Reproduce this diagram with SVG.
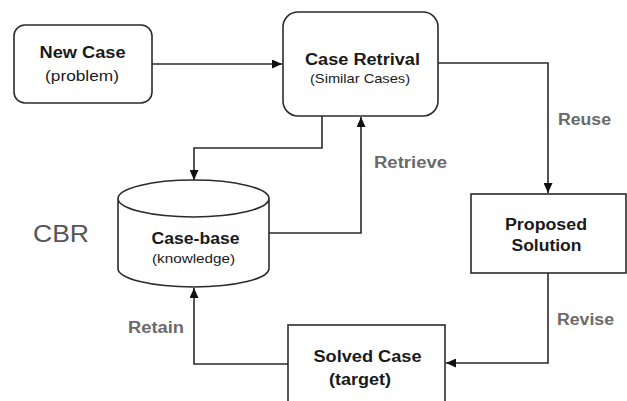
<svg xmlns="http://www.w3.org/2000/svg" width="627" height="401" viewBox="0 0 627 401">
<style>
.box{fill:#fff;stroke:#2b2b2b;stroke-width:1.6}
.t{font-family:"Liberation Sans",Arial,sans-serif;fill:#1a1a1a;text-anchor:middle}
.b{font-weight:bold;font-size:16px}
.r{font-size:15px}
.s{font-size:13px}
.lbl{font-family:"Liberation Sans",Arial,sans-serif;font-weight:bold;font-size:16px;fill:#6a6a6a}
.cbr{font-family:"Liberation Sans",Arial,sans-serif;font-size:23px;fill:#555}
.c{fill:none;stroke:#2b2b2b;stroke-width:1.6}
</style>
<defs>
<marker id="ah" markerUnits="userSpaceOnUse" markerWidth="10" markerHeight="9" refX="10" refY="4.5" orient="auto">
<path d="M0,0 L10,4.5 L0,9 z" fill="#111"/>
</marker>
</defs>
<rect width="627" height="401" fill="#fff"/>
<g id="connectors">
<path class="c" d="M152,64 H282" marker-end="url(#ah)"/>
<path class="c" d="M322,116 V148 H194 V180" marker-end="url(#ah)"/>
<path class="c" d="M269,233 H361 V117" marker-end="url(#ah)"/>
<path class="c" d="M438,63 H548 V193" marker-end="url(#ah)"/>
<path class="c" d="M548,273 V363 H446" marker-end="url(#ah)"/>
<path class="c" d="M288,364 H194 V288" marker-end="url(#ah)"/>
</g>
<g id="new-case">
<rect class="box" x="14" y="25" width="138" height="78" rx="11"/>
<text class="t b" x="82.5" y="58" textLength="86" lengthAdjust="spacingAndGlyphs">New Case</text>
<text class="t r" x="82" y="81" textLength="74" lengthAdjust="spacingAndGlyphs">(problem)</text>
</g>
<g id="case-retrival">
<rect class="box" x="283" y="12" width="155" height="104" rx="15"/>
<text class="t b" x="362.5" y="65" textLength="115" lengthAdjust="spacingAndGlyphs">Case Retrival</text>
<text class="t s" x="360" y="83" textLength="100" lengthAdjust="spacingAndGlyphs">(Similar Cases)</text>
</g>
<g id="case-base">
<path class="box" d="M118,198.5 L118,268.5 A75.5,18.5 0 0 0 269,268.5 L269,198.5 A75.5,18.5 0 0 0 118,198.5 A75.5,18.5 0 0 0 269,198.5"/>
<text class="t b" x="195.5" y="244" textLength="88" lengthAdjust="spacingAndGlyphs">Case-base</text>
<text class="t s" x="193.5" y="263" textLength="83" lengthAdjust="spacingAndGlyphs">(knowledge)</text>
</g>
<g id="proposed-solution">
<rect class="box" x="471" y="194" width="155" height="79"/>
<text class="t b" x="546" y="230" textLength="82" lengthAdjust="spacingAndGlyphs">Proposed</text>
<text class="t b" x="546.5" y="251" textLength="70" lengthAdjust="spacingAndGlyphs">Solution</text>
</g>
<g id="solved-case">
<rect class="box" x="288" y="325" width="157" height="100"/>
<text class="t b" x="367.5" y="362" textLength="108" lengthAdjust="spacingAndGlyphs">Solved Case</text>
<text class="t b" x="360" y="385" textLength="62" lengthAdjust="spacingAndGlyphs">(target)</text>
</g>
<g id="labels">
<text class="lbl" x="374" y="168" textLength="73" lengthAdjust="spacingAndGlyphs">Retrieve</text>
<text class="lbl" x="558" y="125" textLength="53" lengthAdjust="spacingAndGlyphs">Reuse</text>
<text class="lbl" x="557" y="325" textLength="57" lengthAdjust="spacingAndGlyphs">Revise</text>
<text class="lbl" x="128" y="333" textLength="56" lengthAdjust="spacingAndGlyphs">Retain</text>
<text class="cbr" x="33" y="242" textLength="56" lengthAdjust="spacingAndGlyphs">CBR</text>
</g>
</svg>
